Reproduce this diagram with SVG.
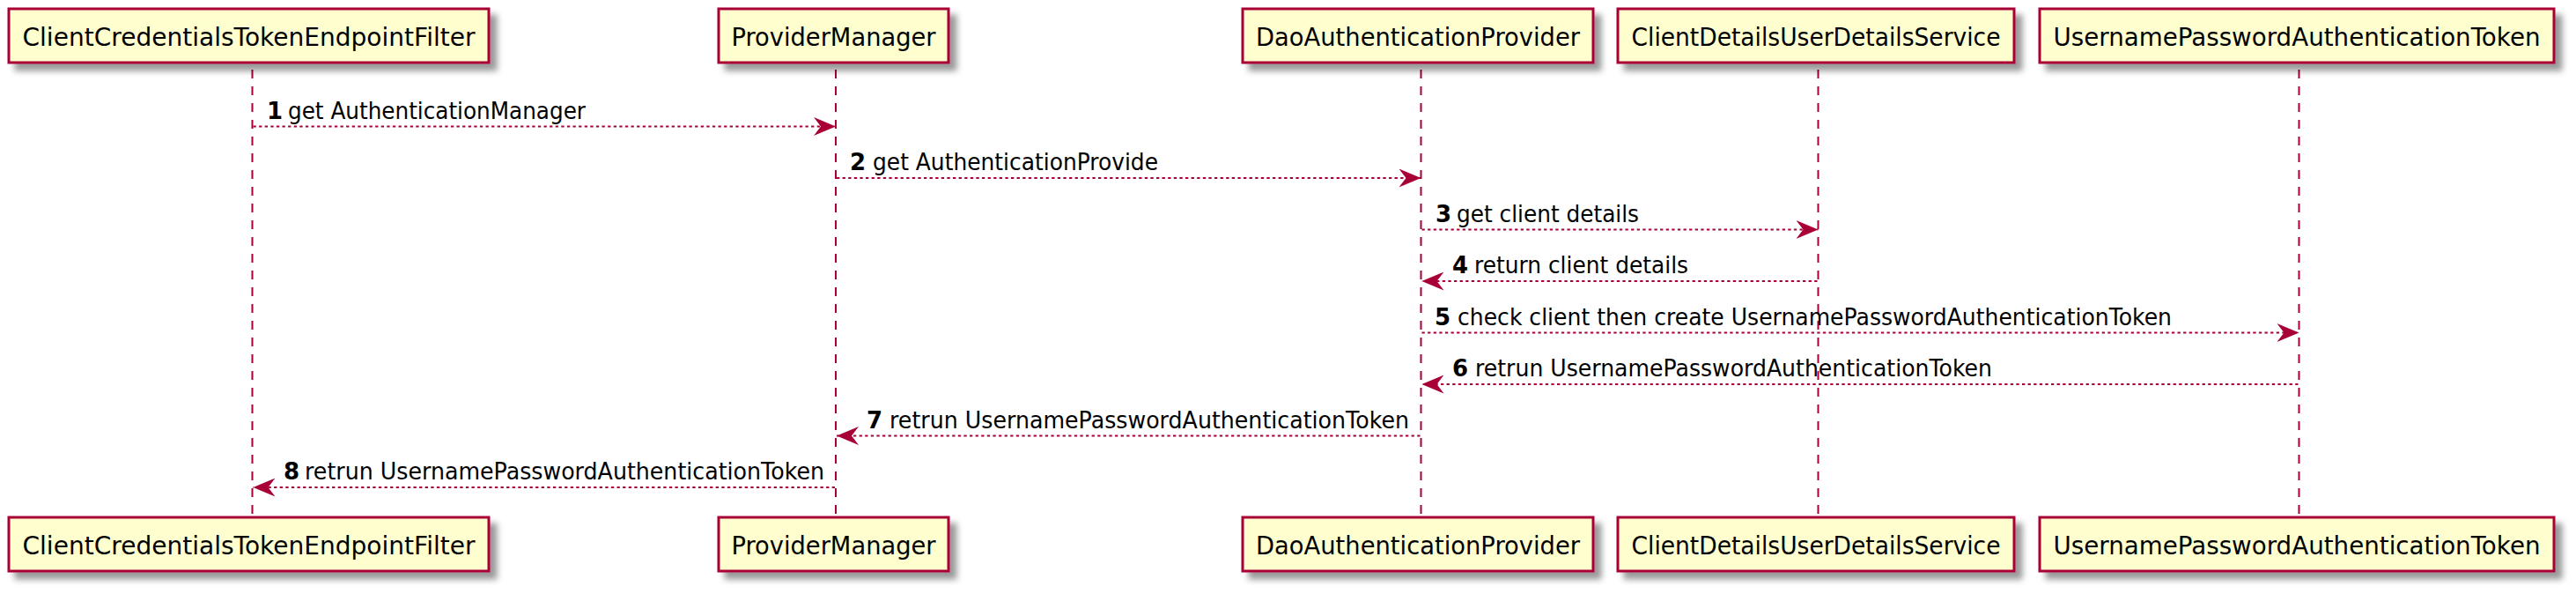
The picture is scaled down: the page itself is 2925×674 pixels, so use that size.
<svg xmlns="http://www.w3.org/2000/svg" width="2925" height="674" viewBox="0 0 2925 674">
<defs>
<filter id="shadow" x="-0.2" y="-0.5" width="1.4" height="2">
<feGaussianBlur in="SourceAlpha" stdDeviation="3.5" result="b"/>
<feColorMatrix in="b" type="matrix" values="0 0 0 0 0 0 0 0 0 0 0 0 0 0 0 0 0 0 .4 0" result="b2"/>
<feOffset in="b2" dx="8" dy="8" result="b3"/>
<feBlend in="SourceGraphic" in2="b3" mode="normal"/>
</filter>
<marker id="arrow" viewBox="0 0 25 21" refX="25" refY="10.5" markerWidth="25" markerHeight="21" markerUnits="userSpaceOnUse" orient="auto">
<path d="M0,0 L25,10.5 L0,21 L8,10.5 Z" fill="#A80036" stroke="none"/>
</marker>
</defs>
<style>
.box{fill:#FEFECE;stroke:#A80036;stroke-width:3;filter:url(#shadow)}
.pt{font-family:"DejaVu Sans","Liberation Sans",sans-serif;font-size:28px;fill:#000;text-anchor:middle}
.life{stroke:#A80036;stroke-width:2;stroke-dasharray:10,9;fill:none}
.msg{stroke:#A80036;stroke-width:2;stroke-dasharray:3.3,3.3;fill:none;marker-end:url(#arrow)}
.num{font-family:"DejaVu Sans","Liberation Sans",sans-serif;font-size:26px;font-weight:bold;fill:#000}
.lbl{font-family:"DejaVu Sans","Liberation Sans",sans-serif;font-size:26px;fill:#000}
</style>
<rect width="2925" height="674" fill="#FFFFFF"/>
<g id="lifelines">
<line class="life" x1="286.5" y1="79" x2="286.5" y2="587"/>
<line class="life" x1="949" y1="79" x2="949" y2="587"/>
<line class="life" x1="1613.5" y1="79" x2="1613.5" y2="587"/>
<line class="life" x1="2064.5" y1="79" x2="2064.5" y2="587"/>
<line class="life" x1="2610.5" y1="79" x2="2610.5" y2="587"/>
</g>
<g id="p-clientcredentials">
<rect class="box" x="10" y="10" width="545" height="61"/>
<text class="pt" x="282.5" y="52" textLength="514" lengthAdjust="spacingAndGlyphs">ClientCredentialsTokenEndpointFilter</text>
<rect class="box" x="10" y="587" width="545" height="61"/>
<text class="pt" x="282.5" y="629" textLength="514" lengthAdjust="spacingAndGlyphs">ClientCredentialsTokenEndpointFilter</text>
</g>
<g id="p-providermanager">
<rect class="box" x="816" y="10" width="261" height="61"/>
<text class="pt" x="946.5" y="52" textLength="232" lengthAdjust="spacingAndGlyphs">ProviderManager</text>
<rect class="box" x="816" y="587" width="261" height="61"/>
<text class="pt" x="946.5" y="629" textLength="232" lengthAdjust="spacingAndGlyphs">ProviderManager</text>
</g>
<g id="p-daoauthprovider">
<rect class="box" x="1411" y="10" width="398" height="61"/>
<text class="pt" x="1610" y="52" textLength="368" lengthAdjust="spacingAndGlyphs">DaoAuthenticationProvider</text>
<rect class="box" x="1411" y="587" width="398" height="61"/>
<text class="pt" x="1610" y="629" textLength="368" lengthAdjust="spacingAndGlyphs">DaoAuthenticationProvider</text>
</g>
<g id="p-clientdetailsservice">
<rect class="box" x="1837" y="10" width="450" height="61"/>
<text class="pt" x="2062" y="52" textLength="419" lengthAdjust="spacingAndGlyphs">ClientDetailsUserDetailsService</text>
<rect class="box" x="1837" y="587" width="450" height="61"/>
<text class="pt" x="2062" y="629" textLength="419" lengthAdjust="spacingAndGlyphs">ClientDetailsUserDetailsService</text>
</g>
<g id="p-usernametoken">
<rect class="box" x="2316" y="10" width="584" height="61"/>
<text class="pt" x="2608" y="52" textLength="553" lengthAdjust="spacingAndGlyphs">UsernamePasswordAuthenticationToken</text>
<rect class="box" x="2316" y="587" width="584" height="61"/>
<text class="pt" x="2608" y="629" textLength="553" lengthAdjust="spacingAndGlyphs">UsernamePasswordAuthenticationToken</text>
</g>
<g id="connectors">
<line class="msg" x1="287.5" y1="143.5" x2="949" y2="143.5"/>
<text class="num" x="303" y="134.5">1</text>
<text class="lbl" x="327" y="134.5" textLength="338" lengthAdjust="spacingAndGlyphs">get AuthenticationManager</text>

<line class="msg" x1="950" y1="202" x2="1613.5" y2="202"/>
<text class="num" x="965" y="193">2</text>
<text class="lbl" x="991" y="193" textLength="324" lengthAdjust="spacingAndGlyphs">get AuthenticationProvide</text>

<line class="msg" x1="1614.5" y1="260.5" x2="2064.5" y2="260.5"/>
<text class="num" x="1630" y="251.5">3</text>
<text class="lbl" x="1654" y="251.5" textLength="207" lengthAdjust="spacingAndGlyphs">get client details</text>

<line class="msg" x1="2063.5" y1="319" x2="1614.5" y2="319"/>
<text class="num" x="1649" y="310">4</text>
<text class="lbl" x="1674" y="310" textLength="243" lengthAdjust="spacingAndGlyphs">return client details</text>

<line class="msg" x1="1614.5" y1="377.5" x2="2610.5" y2="377.5"/>
<text class="num" x="1629" y="368.5">5</text>
<text class="lbl" x="1655" y="368.5" textLength="811" lengthAdjust="spacingAndGlyphs">check client then create UsernamePasswordAuthenticationToken</text>

<line class="msg" x1="2609.5" y1="436" x2="1614.5" y2="436"/>
<text class="num" x="1649" y="427">6</text>
<text class="lbl" x="1675" y="427" textLength="587" lengthAdjust="spacingAndGlyphs">retrun UsernamePasswordAuthenticationToken</text>

<line class="msg" x1="1612.5" y1="494.5" x2="950" y2="494.5"/>
<text class="num" x="984" y="485.5">7</text>
<text class="lbl" x="1010" y="485.5" textLength="590" lengthAdjust="spacingAndGlyphs">retrun UsernamePasswordAuthenticationToken</text>

<line class="msg" x1="948" y1="553" x2="287.5" y2="553"/>
<text class="num" x="322" y="544">8</text>
<text class="lbl" x="346" y="544" textLength="590" lengthAdjust="spacingAndGlyphs">retrun UsernamePasswordAuthenticationToken</text>
</g>
</svg>
